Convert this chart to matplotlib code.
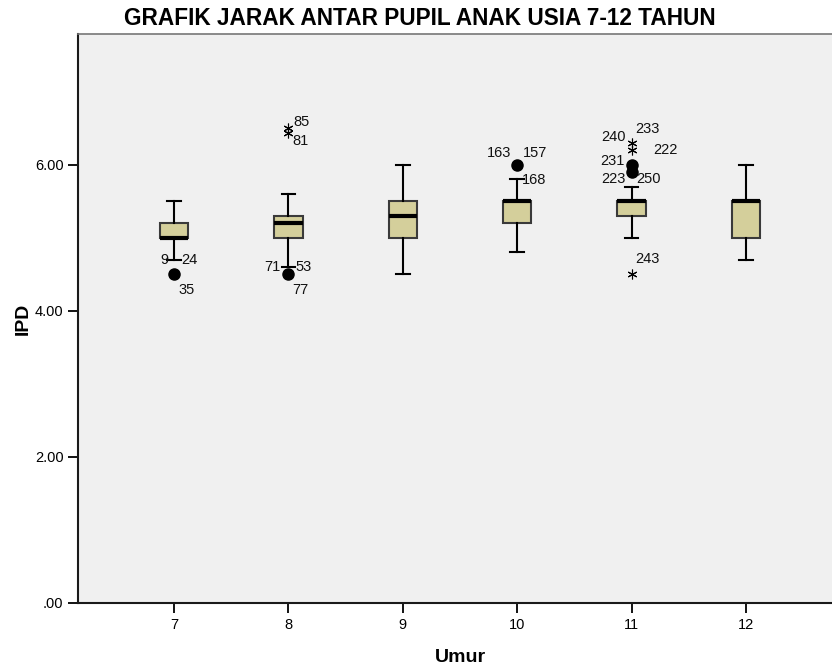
import matplotlib.pyplot as plt
from matplotlib.ticker import FuncFormatter

# IPD summary per age group
ages = [7, 8, 9, 10, 11, 12]
whisker_low = [4.7, 4.6, 4.5, 4.8, 5.0, 4.7]
q1 = [5.0, 5.0, 5.0, 5.2, 5.3, 5.0]
median = [5.0, 5.2, 5.3, 5.5, 5.5, 5.5]
q3 = [5.2, 5.3, 5.5, 5.5, 5.5, 5.5]
whisker_high = [5.5, 5.6, 6.0, 5.8, 5.7, 6.0]

# outliers (circles) and extremes (stars): age, value
out_age = [7, 8, 10, 11, 11]
out_val = [4.5, 4.5, 6.0, 6.0, 5.9]
ext_age = [8, 8, 11, 11, 11]
ext_val = [6.5, 6.43, 6.3, 6.2, 4.5]

# case numbers written next to the unusual points: text, age, value
case_text = ["9", "24", "35", "85", "81", "71", "53", "77",
             "163", "157", "168", "240", "233", "222", "231", "223", "250", "243"]
case_age = [7, 7, 7, 8, 8, 8, 8, 8, 10, 10, 10, 11, 11, 11, 11, 11, 11, 11]
case_val = [4.7, 4.7, 4.5, 6.5, 6.43, 4.6, 4.6, 4.5,
            6.0, 6.0, 5.8, 6.3, 6.3, 6.2, 6.0, 5.9, 5.9, 4.5]

# pixel offsets and alignment for each case label
case_dx = [-6, 7, 4, 5, 4, -8, 7, 4, -6, 6, 5, -6, 4, 22, -7, -6, 5, 4]
case_dy = [0, 0, -16, 6, -8, 0, 0, -16, 12, 12, -1, 6, 14, 0, 4, -7, -7, 15]
case_ha = ["right", "left", "left", "left", "left", "right", "left", "left",
           "right", "left", "left", "right", "left", "left", "right", "right", "left", "left"]

plt.rcParams['font.family'] = ['Liberation Sans', 'DejaVu Sans']

fig = plt.figure(figsize=(8.32, 6.70), dpi=100)
ax = fig.add_axes([78 / 832, 67 / 670, 764 / 832, 569 / 670])
ax.set_facecolor('#f0f0f0')

stats = []
for i, a in enumerate(ages):
    stats.append({'label': str(a), 'whislo': whisker_low[i], 'q1': q1[i],
                  'med': median[i], 'q3': q3[i], 'whishi': whisker_high[i],
                  'fliers': []})

ax.bxp(stats, positions=ages, widths=0.25, patch_artist=True, showfliers=False,
       boxprops=dict(facecolor='#d4cf9b', edgecolor='#3a3a3a', linewidth=1.5),
       medianprops=dict(color='black', linewidth=3),
       whiskerprops=dict(color='black', linewidth=1.5),
       capprops=dict(color='black', linewidth=1.5), capwidths=0.12)

ax.plot(out_age, out_val, 'o', color='black', markersize=8, zorder=5)
ax.plot(ext_age, ext_val, linestyle='none', marker=(6, 2, 0), color='black',
        markersize=7, markeredgewidth=0.8, zorder=5)

for t, a, v, dx, dy, ha in zip(case_text, case_age, case_val, case_dx, case_dy, case_ha):
    ax.annotate(t, (a, v), xytext=(dx, dy), textcoords='offset pixels',
                ha=ha, va='center', fontsize=10.5, color='#111111')

ax.set_xlim(6.16, 12.84)
ax.set_ylim(0, 7.79)
ax.set_yticks([0, 2, 4, 6])
ax.yaxis.set_major_formatter(FuncFormatter(lambda v, p: '.00' if v == 0 else f'{v:.2f}'))
ax.set_xticks(ages)
ax.set_xticklabels([str(a) for a in ages])
ax.tick_params(axis='both', direction='out', length=7, width=1.3, labelsize=10.5)
ax.tick_params(axis='x', pad=4)

for side in ['left', 'bottom']:
    ax.spines[side].set_linewidth(1.5)
    ax.spines[side].set_color('#1a1a1a')
for side in ['top', 'right']:
    ax.spines[side].set_linewidth(1.2)
    ax.spines[side].set_color('#777777')

ax.set_ylabel('IPD', fontsize=14, fontweight='bold', labelpad=2)
ax.set_xlabel('Umur', fontsize=14, fontweight='bold', labelpad=12)
fig.text(0.505, 0.973, 'GRAFIK JARAK ANTAR PUPIL ANAK USIA 7-12 TAHUN',
         ha='center', va='center', fontsize=16.3, fontweight='bold')

fig.savefig('out.png', dpi=100)
